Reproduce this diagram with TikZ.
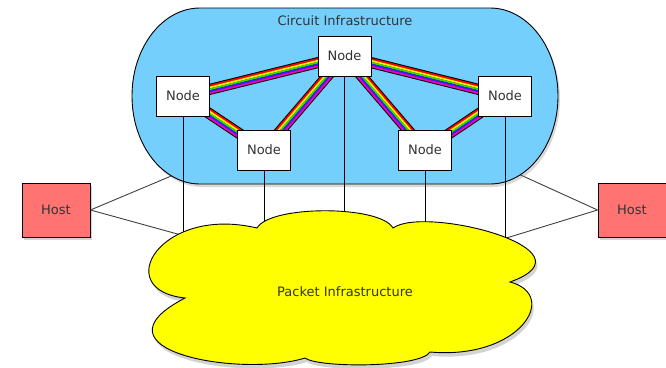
\documentclass[tikz,border=0pt]{standalone}
\usepackage{fontspec}
\setmainfont{DejaVu Sans}
\usetikzlibrary{calc,shadows}
\pgfdeclarelayer{l0}\pgfdeclarelayer{l1}\pgfdeclarelayer{l2}
\pgfsetlayers{l0,l1,l2,main}
\definecolor{skyfill}{HTML}{75CFFD}
\definecolor{hostfill}{HTML}{FF7373}
\definecolor{cloudfill}{HTML}{FFFF00}
\definecolor{txt}{HTML}{333333}
\definecolor{rbred}{HTML}{FF0000}
\definecolor{rbyellow}{HTML}{FFEE00}
\definecolor{rbgreen}{HTML}{33DD00}
\definecolor{rbblue}{HTML}{3322FF}
\definecolor{rbmag}{HTML}{EE00BB}
\newcommand{\rainbowlink}[2]{%
  \draw[line width=11pt,black] (#1.center) -- (#2.center);
  \foreach \o/\c in {3.6/rbred,1.8/rbyellow,0/rbgreen,-1.8/rbblue,-3.6/rbmag}{%
    \draw[line width=1.85pt,\c] ($(#1.center)!\o pt!90:(#2.center)$) -- ($(#2.center)!\o pt!-90:(#1.center)$);
  }%
}
\tikzset{
  netnode/.style={draw, fill=white, line width=0.9pt, minimum width=53pt, minimum height=40pt, inner sep=0pt, text=txt, font=\fontsize{13}{15}\selectfont},
  hostnode/.style={draw, fill=hostfill, line width=0.9pt, minimum width=68pt, minimum height=54pt, inner sep=0pt, text=txt, font=\fontsize{13}{15}\selectfont, drop shadow={opacity=0.35, shadow xshift=2pt, shadow yshift=-3pt}},
  wire/.style={line width=0.8pt, black},
  hwire/.style={line width=0.9pt, black!75},
  lbl/.style={text=txt, font=\fontsize{13}{15}\selectfont},
}
\begin{document}
\begin{tikzpicture}[x=1pt,y=-1pt]
\useasboundingbox (0,0) rectangle (666,367);
% nodes
\node[netnode] (ntop) at (344.5,56) {Node};
\node[netnode] (nl) at (183,96) {Node};
\node[netnode] (nll) at (264,150) {Node};
\node[netnode] (nrl) at (425,150) {Node};
\node[netnode] (nr) at (505,96) {Node};
\node[hostnode] (hl) at (56,210) {Host};
\node[hostnode] (hr) at (632,210) {Host};
% circuit infrastructure
\begin{pgfonlayer}{l1}
\path[draw, line width=0.9pt, fill=skyfill, drop shadow={opacity=0.3, shadow xshift=2pt, shadow yshift=-3pt}]
  (200,8) -- (490,8) arc (-90:90:68 and 88) -- (200,184) arc (90:270:68 and 88) -- cycle;
\node[lbl] (ci) at (345,21) {Circuit Infrastructure};
\end{pgfonlayer}
% rainbow links
\begin{pgfonlayer}{l2}
\rainbowlink{nl}{ntop}
\rainbowlink{nl}{nll}
\rainbowlink{nll}{ntop}
\rainbowlink{ntop}{nrl}
\rainbowlink{ntop}{nr}
\rainbowlink{nrl}{nr}
\end{pgfonlayer}
% host wires (behind shapes)
\coordinate (hlu) at (176,174);
\coordinate (hld) at (192,238);
\coordinate (hru) at (514,172);
\coordinate (hrd) at (500,240);
\begin{pgfonlayer}{l0}
\draw[hwire] (hl.east) -- (hlu);
\draw[hwire] (hl.east) -- (hld);
\draw[hwire] (hr.west) -- (hru);
\draw[hwire] (hr.west) -- (hrd);
\end{pgfonlayer}
% vertical wires into the cloud
\coordinate (vl) at (183,250);
\coordinate (vll) at (264,250);
\coordinate (vt) at (344.5,250);
\coordinate (vrl) at (425,250);
\coordinate (vr) at (505,250);
\draw[wire] (nl.south) -- (vl);
\draw[wire] (nll.south) -- (vll);
\draw[wire] (ntop.south) -- (vt);
\draw[wire] (nrl.south) -- (vrl);
\draw[wire] (nr.south) -- (vr);
% cloud
\path[draw, line width=0.9pt, fill=cloudfill, drop shadow={opacity=0.35, shadow xshift=2pt, shadow yshift=-4pt}]
  (257,228) .. controls (270,205) and (380,205) .. (393,228)
  .. controls (425,205) and (600,250) .. (510,282)
  .. controls (560,295) and (520,360) .. (430,352)
  .. controls (420,368) and (318,368) .. (305,358)
  .. controls (240,378) and (85,350) .. (185,298)
  .. controls (110,290) and (160,205) .. (257,228) -- cycle;
\node[lbl] (pi) at (345,292) {Packet Infrastructure};
\end{tikzpicture}
\end{document}
